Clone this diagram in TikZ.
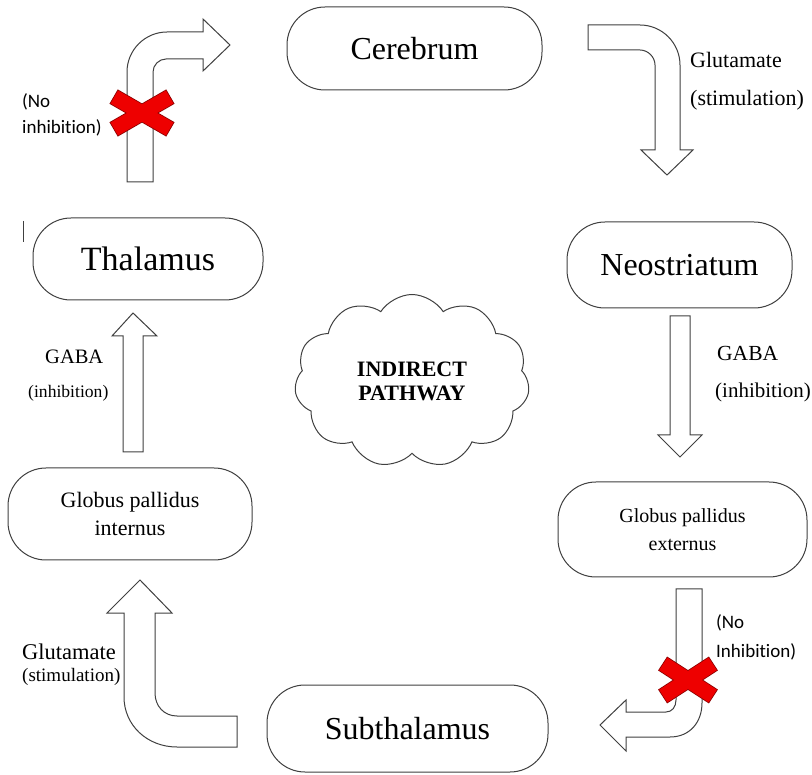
\documentclass[tikz,border=0pt]{standalone}
\usepackage{fontspec}
\setmainfont{Liberation Serif}
\newfontfamily\calibfont[Ligatures=NoCommon]{Carlito}
\usetikzlibrary{shapes.symbols}
\definecolor{lc}{HTML}{404040}
\definecolor{xred}{HTML}{EE0000}
\definecolor{xdark}{HTML}{8B0000}
\begin{document}
\begin{tikzpicture}[x=1pt,y=-1pt,
  box/.style={draw=lc, line width=1pt, rounded corners=38pt, fill=white, inner sep=0pt},
  blockarrow/.style={draw=lc, line width=1pt, fill=white, line join=miter},
  lbl/.style={inner sep=0pt, anchor=west},
  xbar/.style={rectangle, minimum height=15pt, inner sep=0pt},
]
\useasboundingbox (0,0) rectangle (812,775);

% boxes
\node[box, minimum width=255pt, minimum height=83pt, font=\fontsize{32}{38}\selectfont] (cer) at (414.5,48.5) {Cerebrum};
\node[box, minimum width=230pt, minimum height=82pt, font=\fontsize{34}{40}\selectfont] (tha) at (148,259) {Thalamus};
\node[box, minimum width=225pt, minimum height=86pt, font=\fontsize{32}{38}\selectfont] (neo) at (679.5,265) {Neostriatum};
\node[box, minimum width=244pt, minimum height=92pt, font=\fontsize{22}{28}\selectfont, align=center] (gpi) at (130,514) {Globus pallidus\\internus};
\node[box, minimum width=249pt, minimum height=95pt, font=\fontsize{20}{28}\selectfont, align=center] (gpe) at (682.5,529.5) {Globus pallidus\\externus};
\node[box, minimum width=281pt, minimum height=87pt, font=\fontsize{32}{38}\selectfont] (sub) at (407.5,728.5) {Subthalamus};

% cloud
\node[cloud, cloud puffs=11, cloud puff arc=115, draw=lc, line width=1pt, minimum width=235pt, minimum height=173pt, aspect=1.36, font=\bfseries\fontsize{22}{24}\selectfont, align=center] (cloud) at (412,381) {INDIRECT\\PATHWAY};

% block arrows
\draw[blockarrow] (127,182) -- (127,72) .. controls (127,50) and (145,32) .. (167,32) -- (203,32) -- (203,19) -- (230,45) -- (203,71) -- (203,59) -- (166,59) .. controls (159,59) and (153,65) .. (153,72) -- (153,182) -- cycle;
\draw[blockarrow] (588,25) -- (640,25) .. controls (662,25) and (680,43) .. (680,65) -- (680,150) -- (693,150) -- (667,175) -- (641,150) -- (655,150) -- (655,65) .. controls (655,57) and (648,50) .. (640,50) -- (588,50) -- cycle;
\draw[blockarrow] (670,316) -- (690,316) -- (690,435) -- (702,435) -- (680,457) -- (658,435) -- (670,435) -- cycle;
\draw[blockarrow] (676,589) -- (702,589) -- (702,703) .. controls (702,722) and (690,737) .. (670,737) -- (626,737) -- (626,751) -- (600,725) -- (626,700) -- (626,712) -- (666,712) .. controls (672,712) and (676,707) .. (676,700) -- cycle;
\draw[blockarrow] (140,580) -- (172,613) -- (155,613) -- (155,693) .. controls (155,706) and (164,716) .. (177,716) -- (237,716) -- (237,747) -- (177,747) .. controls (147,747) and (124,725) .. (124,697) -- (124,613) -- (107,613) -- cycle;
\draw[blockarrow] (133,313) -- (157,336) -- (143,336) -- (143,452) -- (123,452) -- (123,336) -- (112,336) -- cycle;

% stray mark
\draw[lc, line width=1pt] (23,221) -- (23,242);

% red crosses
\node[xbar, minimum width=64pt, draw=xdark, line width=1.6pt, rotate=30] (xa1) at (142,113) {};
\node[xbar, minimum width=64pt, draw=xdark, line width=1.6pt, rotate=-30] (xa2) at (142,113) {};
\node[xbar, minimum width=64pt, fill=xred, rotate=30] (xa3) at (142,113) {};
\node[xbar, minimum width=64pt, fill=xred, rotate=-30] (xa4) at (142,113) {};
\node[xbar, minimum width=59pt, draw=xdark, line width=1.6pt, rotate=33] (xb1) at (688,680) {};
\node[xbar, minimum width=59pt, draw=xdark, line width=1.6pt, rotate=-33] (xb2) at (688,680) {};
\node[xbar, minimum width=59pt, fill=xred, rotate=33] (xb3) at (688,680) {};
\node[xbar, minimum width=59pt, fill=xred, rotate=-33] (xb4) at (688,680) {};

% labels
\node[lbl, font=\calibfont\fontsize{19}{23}\selectfont] (l1a) at (22,102) {(No};
\node[lbl, font=\calibfont\fontsize{19}{23}\selectfont] (l1b) at (22,128) {inhibition)};
\node[lbl, font=\fontsize{22}{26}\selectfont] (l2a) at (690,60) {Glutamate};
\node[lbl, font=\fontsize{22}{26}\selectfont] (l2b) at (690,100) {(stimulation)};
\node[lbl, font=\fontsize{21.5}{26}\selectfont] (l3a) at (717,353) {GABA};
\node[lbl, font=\fontsize{21}{26}\selectfont] (l3b) at (715,392) {(inhibition)};
\node[lbl, font=\calibfont\fontsize{19}{23}\selectfont] (l4a) at (716,623) {(No};
\node[lbl, font=\calibfont\fontsize{19}{23}\selectfont] (l4b) at (716,652) {Inhibition)};
\node[lbl, font=\fontsize{22.5}{26}\selectfont] (l5a) at (22,652) {Glutamate};
\node[lbl, font=\fontsize{19}{23}\selectfont] (l5b) at (22,677) {(stimulation)};
\node[lbl, font=\fontsize{20.5}{24}\selectfont] (l6a) at (45,357) {GABA};
\node[lbl, font=\fontsize{17.6}{22}\selectfont] (l6b) at (28,393) {(inhibition)};
\end{tikzpicture}
\end{document}
